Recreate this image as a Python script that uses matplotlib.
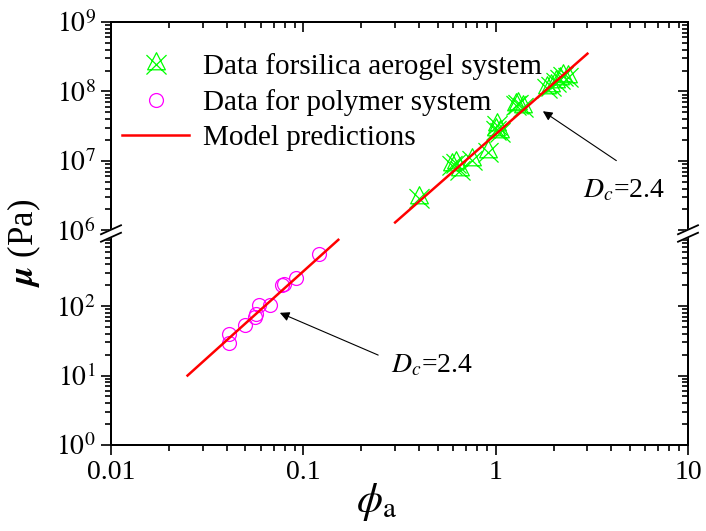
import numpy as np
import matplotlib.pyplot as plt
from matplotlib.path import Path
from matplotlib.ticker import FixedLocator, NullFormatter

plt.rcParams['font.family'] = ['Liberation Serif', 'DejaVu Serif']
plt.rcParams['mathtext.fontset'] = 'stix'

# silica aerogel system
silica_phi = [0.40, 0.59, 0.62, 0.65, 0.75, 0.91, 1.00, 1.02, 1.05, 1.27,
              1.30, 1.39, 1.85, 1.95, 2.06, 2.15, 2.25, 2.38]
silica_mu = [2.9e6, 8.8e6, 9.2e6, 7.4e6, 1.04e7, 1.36e7, 2.8e7, 3.3e7, 2.6e7, 6.3e7,
             6.6e7, 6.0e7, 1.12e8, 1.2e8, 1.35e8, 1.5e8, 1.65e8, 1.6e8]

# polymer system
polymer_phi = [0.041, 0.041, 0.050, 0.056, 0.057, 0.059, 0.067, 0.077, 0.079, 0.092, 0.120]
polymer_mu = [40, 29, 53, 70, 76, 103, 105, 200, 208, 255, 560]

# model lines (end points, straight on log-log)
model_lo_phi = [0.025, 0.152]
model_lo_mu = [10, 900]
model_hi_phi = [0.30, 3.0]
model_hi_mu = [1.3e6, 3.5e8]

x_ticks = [0.01, 0.1, 1, 10]
x_ticklabels = ['0.01', '0.1', '1', '10']
y_ticks = [1, 10, 100, 1e6, 1e7, 1e8, 1e9]
y_ticklabels = [r'$10^{0}$', r'$10^{1}$', r'$10^{2}$', r'$10^{6}$',
                r'$10^{7}$', r'$10^{8}$', r'$10^{9}$']
x_minor = [k * 10.0**d for d in (-2, -1, 0) for k in range(2, 10)]
y_minor = [k * 10.0**d for d in (0, 1, 2, 6, 7, 8) for k in range(2, 10)]

GAP = 0.09  # width of the break between 1e3 and 1e6, in decades


def fwd(y):
    t = np.log10(np.clip(np.asarray(y, dtype=float), 1e-300, None))
    return np.where(t <= 3, t, np.where(t >= 6, t - 3 + GAP, 3 + (t - 3) * GAP / 3))


def inv(t):
    t = np.asarray(t, dtype=float)
    with np.errstate(over='ignore'):
        return np.where(t <= 3, 10.0**t,
                        np.where(t >= 3 + GAP, 10.0**(t + 3 - GAP), 10.0**(3 + (t - 3) * 3 / GAP)))


star = Path([(0, 1), (-0.75, -0.45), (0.75, -0.45), (0, 1),
             (-0.85, 0.8), (0.85, -0.85), (0.85, 0.8), (-0.85, -0.85)],
            [Path.MOVETO, Path.LINETO, Path.LINETO, Path.CLOSEPOLY,
             Path.MOVETO, Path.LINETO, Path.MOVETO, Path.LINETO])

fig = plt.figure(figsize=(7.06, 5.31), dpi=100)
ax = fig.add_axes([111 / 706, 86 / 531, 577 / 706, 423 / 531])

ax.set_xscale('log')
ax.set_yscale('function', functions=(fwd, inv))
ax.set_xlim(0.01, 10)
ax.set_ylim(1, 1e9)

ax.plot(silica_phi, silica_mu, linestyle='none', marker=star, ms=17,
        mfc='none', mec='#00ff00', mew=0.9, label='Data forsilica aerogel system')
ax.plot(polymer_phi, polymer_mu, linestyle='none', marker='o', ms=10,
        mfc='none', mec='#ff00ff', mew=0.9, label='Data for polymer system')
ax.plot(model_lo_phi, model_lo_mu, color='red', lw=1.8, label='Model predictions')
ax.plot(model_hi_phi, model_hi_mu, color='red', lw=1.8)

ax.set_xticks(x_ticks, labels=x_ticklabels)
ax.xaxis.set_minor_locator(FixedLocator(x_minor))
ax.xaxis.set_minor_formatter(NullFormatter())
ax.set_yticks(y_ticks, labels=y_ticklabels)
ax.yaxis.set_minor_locator(FixedLocator(y_minor))
ax.yaxis.set_minor_formatter(NullFormatter())
ax.tick_params(which='both', direction='out', width=1.2, labelsize=20, pad=4)
ax.tick_params(which='major', length=7)
ax.tick_params(which='minor', length=4)
for s in ax.spines.values():
    s.set_linewidth(1.4)

# mirrored ticks on top and right, pointing inwards
ax_top = ax.twiny()
ax_top.set_xscale('log')
ax_top.set_xlim(ax.get_xlim())
ax_top.set_xticks(x_ticks, labels=[])
ax_top.xaxis.set_minor_locator(FixedLocator(x_minor))
ax_top.xaxis.set_minor_formatter(NullFormatter())
ax_right = ax.twinx()
ax_right.set_yscale('function', functions=(fwd, inv))
ax_right.set_ylim(ax.get_ylim())
ax_right.set_yticks(y_ticks, labels=[])
ax_right.yaxis.set_minor_locator(FixedLocator(y_minor))
ax_right.yaxis.set_minor_formatter(NullFormatter())
for a in (ax_top, ax_right):
    a.tick_params(which='both', direction='in', width=1.2)
    a.tick_params(which='major', length=7)
    a.tick_params(which='minor', length=4)
    for s in a.spines.values():
        s.set_linewidth(1.4)

ax.set_xlabel(r'$\mathit{\phi}_{\mathrm{a}}$', fontsize=30)
ax.xaxis.set_label_coords(0.461, -0.085)
ax.set_ylabel(r'$\mathbfit{\mu}$ (Pa)', fontsize=25)
ax.yaxis.set_label_coords(-0.118, 0.478)

ax.legend(loc='upper left', bbox_to_anchor=(0.019, 0.926), frameon=False,
          fontsize=21, handlelength=2.3, handletextpad=0.48, labelspacing=0.3,
          borderpad=0, borderaxespad=0)

# D_c annotations with arrows
arrow = dict(arrowstyle='-|>', color='black', lw=0.8, mutation_scale=14,
             shrinkA=0, shrinkB=0)
ax_right.annotate('', xy=(1.76, 5.19e7), xytext=(4.24, 1.01e7),
                  xycoords=ax.transData, textcoords=ax.transData, arrowprops=arrow)
ax_right.annotate('', xy=(0.0755, 80), xytext=(0.245, 19.7),
                  xycoords=ax.transData, textcoords=ax.transData, arrowprops=arrow)
ax.text(2.83, 2.94e6, r'$\mathit{D}_{\mathit{c}}$=2.4', fontsize=20, ha='left', va='baseline')
ax.text(0.287, 11.2, r'$\mathit{D}_{\mathit{c}}$=2.4', fontsize=20, ha='left', va='baseline')

# axis break marks on both vertical spines
dx, rise, sep = 10 / 577, 9 / 423, 7.5 / 423
yb = fwd(1e3 * 10**1.5) / fwd(1e9)
for xb in (0.0, 1.0):
    ax_right.fill([xb - dx, xb + dx, xb + dx, xb - dx],
                  [yb - rise / 2 + sep / 2, yb + rise / 2 + sep / 2,
                   yb + rise / 2 - sep / 2, yb - rise / 2 - sep / 2],
                  color='white', transform=ax.transAxes, clip_on=False, zorder=10)
    for off in (sep / 2, -sep / 2):
        ax_right.plot([xb - dx, xb + dx], [yb - rise / 2 + off, yb + rise / 2 + off],
                      color='black', lw=1.3, transform=ax.transAxes, clip_on=False, zorder=11)

fig.savefig('out.png', dpi=100)
